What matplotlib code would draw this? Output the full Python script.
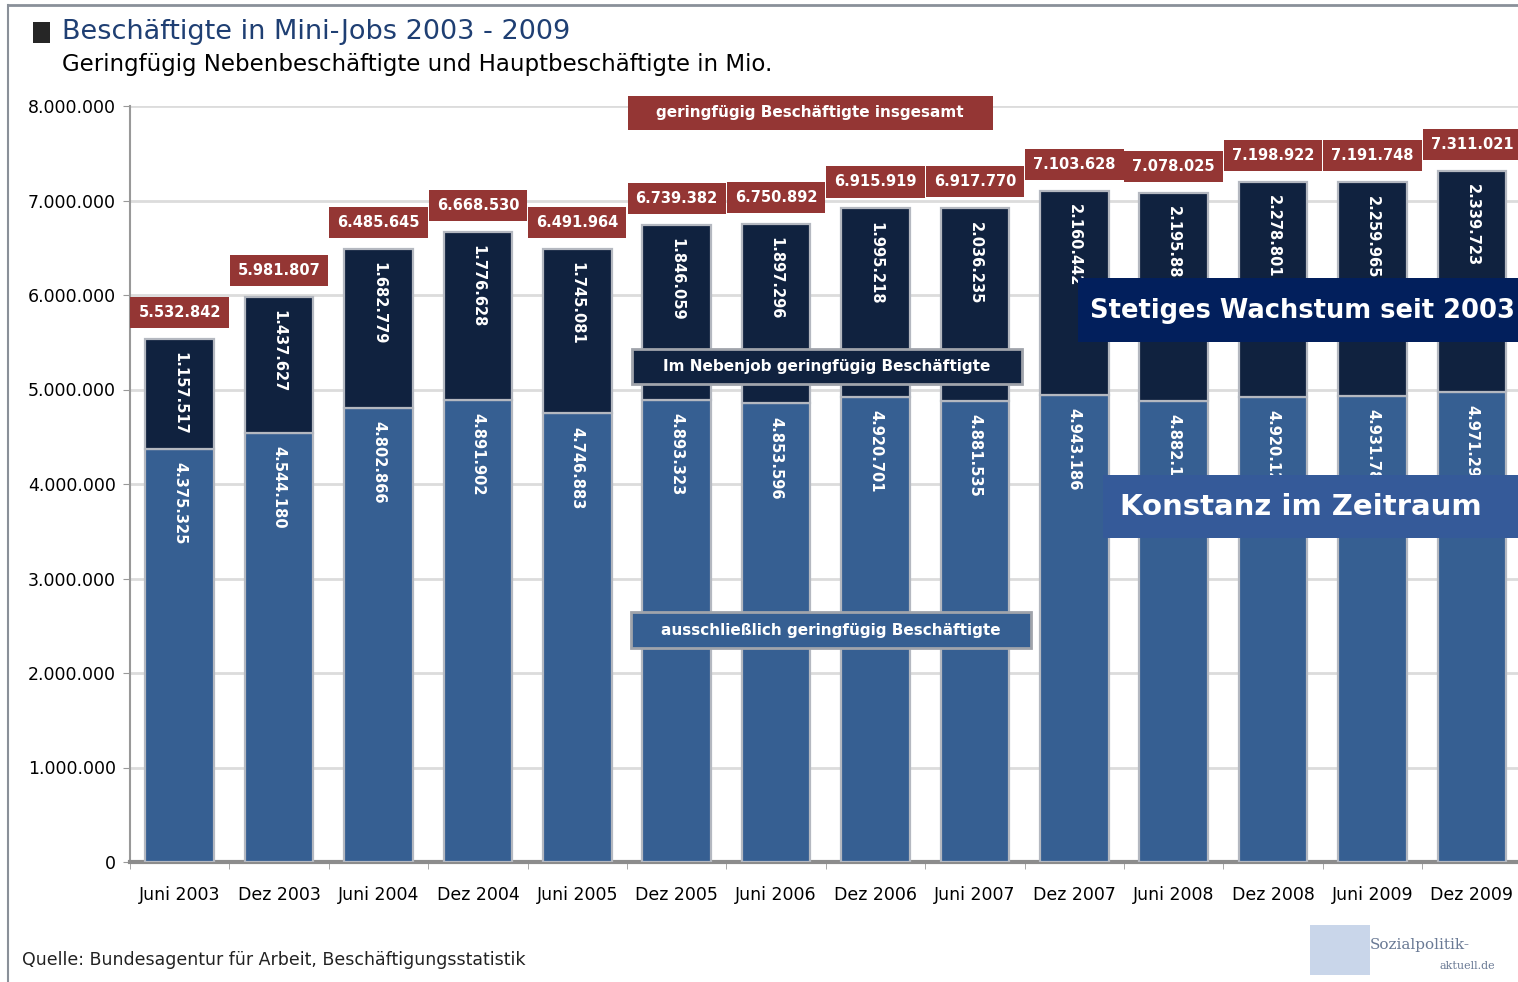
import matplotlib
matplotlib.use('Agg')
import matplotlib.pyplot as plt
from matplotlib.patches import Rectangle
from matplotlib.lines import Line2D
from matplotlib.ticker import FuncFormatter, MultipleLocator, FixedLocator
import numpy as np

# data
periods = ['Juni 2003', 'Dez 2003', 'Juni 2004', 'Dez 2004', 'Juni 2005', 'Dez 2005', 'Juni 2006',
           'Dez 2006', 'Juni 2007', 'Dez 2007', 'Juni 2008', 'Dez 2008', 'Juni 2009', 'Dez 2009']
ausschliesslich = [4375325, 4544180, 4802866, 4891902, 4746883, 4893323, 4853596,
                   4920701, 4881535, 4943186, 4882140, 4920121, 4931783, 4971298]
nebenjob = [1157517, 1437627, 1682779, 1776628, 1745081, 1846059, 1897296,
            1995218, 2036235, 2160442, 2195885, 2278801, 2259965, 2339723]
insgesamt = [5532842, 5981807, 6485645, 6668530, 6491964, 6739382, 6750892,
             6915919, 6917770, 7103628, 7078025, 7198922, 7191748, 7311021]

LIGHT = '#365f92'
DARK = '#10223f'
RED = '#943634'
EDGE = '#b4b8c0'


def de_num(v):
    return f'{int(v):,}'.replace(',', '.')


W, H = 1518, 982
fig = plt.figure(figsize=(W / 100, H / 100), dpi=100)
plt.rcParams['font.family'] = ['DejaVu Sans']


def fx(px):
    return px / W


def fy(py):
    return 1 - py / H


ax = fig.add_axes([fx(130), fy(862), fx(1388), (862 - 106) / H])
x = np.arange(len(periods))
bw = 0.69

ax.bar(x, ausschliesslich, width=bw, color=LIGHT, edgecolor=EDGE, linewidth=1.6, zorder=3)
ax.bar(x, nebenjob, width=bw, bottom=ausschliesslich, color=DARK, edgecolor=EDGE,
       linewidth=1.6, zorder=3)

ax.set_xlim(-0.5, -0.5 + 1388 / 99.4)
ax.set_ylim(0, 8000000)
ax.yaxis.set_major_locator(MultipleLocator(1000000))
ax.yaxis.set_major_formatter(FuncFormatter(lambda v, p: de_num(v)))
ax.grid(axis='y', color='#dcdcdc', linewidth=2, zorder=0)
ax.set_axisbelow(True)

ax.set_xticks(x)
ax.set_xticklabels(periods, fontsize=12.5)
ax.xaxis.set_minor_locator(FixedLocator(np.arange(-0.5, len(periods), 1.0)))
ax.tick_params(axis='x', which='major', length=0, pad=17)
ax.tick_params(axis='x', which='minor', length=5, color='#999999', direction='out')
ax.tick_params(axis='y', length=5, color='#999999', labelsize=12.5, pad=5)

for s in ['top', 'right']:
    ax.spines[s].set_visible(False)
ax.spines['left'].set_color('#999999')
ax.spines['left'].set_linewidth(1.5)
ax.spines['bottom'].set_color('#8c8c8c')
ax.spines['bottom'].set_linewidth(3)
ax.patch.set_facecolor('white')

# value labels
for i in range(len(periods)):
    ax.text(x[i], insgesamt[i] + 280000, de_num(insgesamt[i]), ha='center', va='center',
            color='white', fontsize=10.5, fontweight='bold', zorder=6, clip_on=False,
            bbox=dict(boxstyle='square,pad=0.55', facecolor=RED, edgecolor='none'))
    ax.text(x[i], insgesamt[i] - 140000, de_num(nebenjob[i]), rotation=-90, ha='center',
            va='top', color='white', fontsize=10.5, fontweight='bold', zorder=4)
    ax.text(x[i], ausschliesslich[i] - 140000, de_num(ausschliesslich[i]), rotation=-90,
            ha='center', va='top', color='white', fontsize=10.5, fontweight='bold', zorder=4)

# series captions inside the plot
fig.add_artist(Rectangle((fx(628), fy(130)), fx(365), 34 / H, transform=fig.transFigure,
                         facecolor=RED, edgecolor='none', zorder=7))
fig.text(fx(810), fy(113), 'geringfügig Beschäftigte insgesamt', ha='center', va='center',
         color='white', fontsize=11, fontweight='bold', zorder=8)
fig.add_artist(Rectangle((fx(632), fy(384)), fx(390), 35 / H, transform=fig.transFigure,
                         facecolor=DARK, edgecolor='#a0a4ab', linewidth=2, zorder=7))
fig.text(fx(827), fy(366), 'Im Nebenjob geringfügig Beschäftigte', ha='center', va='center',
         color='white', fontsize=11, fontweight='bold', zorder=8)
fig.add_artist(Rectangle((fx(631), fy(648)), fx(400), 36 / H, transform=fig.transFigure,
                         facecolor=LIGHT, edgecolor='#a0a4ab', linewidth=2, zorder=7))
fig.text(fx(831), fy(630), 'ausschließlich geringfügig Beschäftigte', ha='center', va='center',
         color='white', fontsize=11, fontweight='bold', zorder=8)

# big overlay notes (boxes run to the right edge)
fig.add_artist(Rectangle((fx(1078), fy(342)), fx(460), (342 - 278) / H,
                         transform=fig.transFigure, facecolor='#021f5c', edgecolor='none', zorder=8))
fig.text(fx(1090), fy(311), 'Stetiges Wachstum seit 2003', ha='left', va='center', color='white',
         fontsize=18.5, fontweight='bold', zorder=9)
fig.add_artist(Rectangle((fx(1103), fy(538)), fx(440), (538 - 475) / H,
                         transform=fig.transFigure, facecolor='#355a99', edgecolor='none', zorder=8))
fig.text(fx(1120), fy(507), 'Konstanz im Zeitraum', ha='left', va='center', color='white',
         fontsize=21, fontweight='bold', zorder=9)

# headings
fig.add_artist(Rectangle((fx(33), fy(43)), fx(17), 21 / H, transform=fig.transFigure,
                         facecolor='#262626', edgecolor='none'))
fig.text(fx(62), fy(32), 'Beschäftigte in Mini-Jobs 2003 - 2009', ha='left', va='center',
         color='#1f3f73', fontsize=19.5)
fig.text(fx(62), fy(64), 'Geringfügig Nebenbeschäftigte und Hauptbeschäftigte in Mio.',
         ha='left', va='center', color='black', fontsize=16.5)
fig.text(fx(22), fy(960), 'Quelle: Bundesagentur für Arbeit, Beschäftigungsstatistik',
         ha='left', va='center', color='#222222', fontsize=12.5)

# logo hint
fig.add_artist(Rectangle((fx(1310), fy(975)), fx(60), 50 / H, transform=fig.transFigure,
                         facecolor='#c9d6ea', edgecolor='none'))
fig.text(fx(1370), fy(945), 'Sozialpolitik-', ha='left', va='center', color='#6a7a95',
         fontsize=11, family='DejaVu Serif')
fig.text(fx(1440), fy(966), 'aktuell.de', ha='left', va='center', color='#6a7a95',
         fontsize=8, family='DejaVu Serif')

# screenshot frame
fig.add_artist(Line2D([fx(8), 1], [fy(5), fy(5)], transform=fig.transFigure,
                      color='#8a9099', linewidth=2))
fig.add_artist(Line2D([fx(8), fx(8)], [fy(5), 0], transform=fig.transFigure,
                      color='#8a9099', linewidth=1.5))

fig.savefig('out.png', dpi=100, facecolor='white')
